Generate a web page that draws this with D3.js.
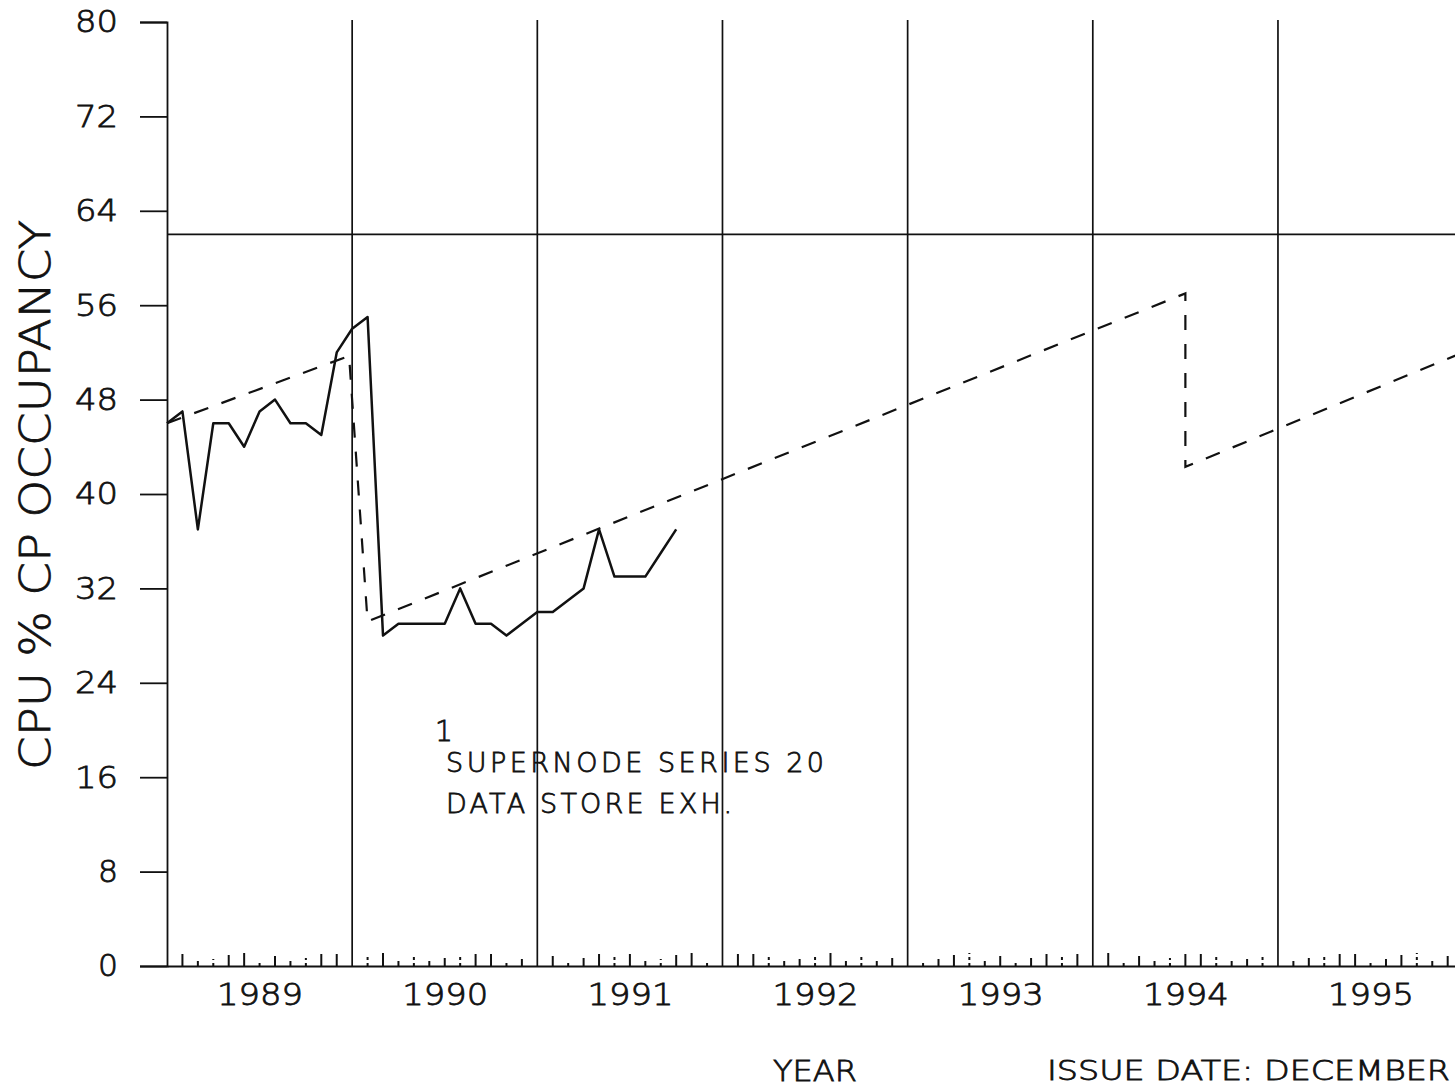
<!DOCTYPE html>
<html>
<head>
<meta charset="utf-8">
<script src="https://cdn.jsdelivr.net/npm/d3@7"></script>
<style>
  html, body { margin: 0; padding: 0; background: #fff; overflow: hidden; }
  text { font-family: "DejaVu Sans", sans-serif; fill: #111; stroke: #111; stroke-width: 0.8px; font-weight: 200; }
</style>
</head>
<body>
<svg id="chart" width="1455" height="1089"></svg>
<script>
// ---- data ----
const yTicks = [0, 8, 16, 24, 32, 40, 48, 56, 64, 72, 80];
const yearLabels = ["1989", "1990", "1991", "1992", "1993", "1994", "1995"];
// actual CPU occupancy, monthly from Jan 1989 (month index 0)
const actualMonths = d3.range(0, 34);
const actualValues = [46, 47, 37, 46, 46, 44, 47, 48, 46, 46, 45, 52,
                      54, 55, 28, 29, 29, 29, 29, 32, 29, 29, 28, 29,
                      30, 30, 31, 32, 37, 33, 33, 33, 35, 37];
// projected (dashed) trend, month index / value
const projMonths = [0, 11.8, 13, 66, 66, 84];
const projValues = [46, 51.7, 29.2, 57, 42.3, 52];
const limitValue = 62;
const annotationLines = ["SUPERNODE SERIES 20", "DATA STORE EXH."];
const annotationMarker = "1";
const xTitle = "YEAR";
const yTitle = "CPU % CP OCCUPANCY";
const issueText = "ISSUE DATE: DECEMBER";
const minorTickHeights = [12, 5, 7, 11, 13, 5, 10, 5, 8, 12, 12];

// ---- layout ----
const svg = d3.select("#chart");
const x = d3.scaleLinear().domain([0, 84]).range([167, 167 + 84 * 15.43]);
const y = d3.scaleLinear().domain([0, 80]).range([966, 22]);
const ink = "#111";

svg.append("defs").append("clipPath").attr("id", "clip")
  .append("rect").attr("x", 0).attr("y", 0).attr("width", 1455).attr("height", 1089);
const g = svg.append("g").attr("clip-path", "url(#clip)");

// year grid lines
const yearBounds = d3.range(12, 84, 12);
g.selectAll("line.grid").data(yearBounds).join("line")
  .attr("class", "grid")
  .attr("x1", d => x(d)).attr("x2", d => x(d))
  .attr("y1", 20).attr("y2", y(0))
  .attr("stroke", ink).attr("stroke-width", 1.7);

// minor month ticks along bottom
const minorTicks = [];
for (let yr = 0; yr < 7; yr++) {
  for (let m = 1; m < 12; m++) minorTicks.push({ mo: yr * 12 + m, h: minorTickHeights[(m - 1 + yr * 3) % 11] });
}
g.selectAll("line.minor").data(minorTicks).join("line")
  .attr("class", "minor")
  .attr("x1", d => x(d.mo)).attr("x2", d => x(d.mo))
  .attr("y1", y(0)).attr("y2", d => y(0) - d.h)
  .attr("stroke", ink).attr("stroke-width", 2)
  .attr("stroke-dasharray", (d, i) => (i % 3 === 2 ? "3,3" : null));

// Y axis
const yAxis = d3.axisLeft(y).tickValues(yTicks).tickSize(27).tickPadding(22)
  .tickFormat(d3.format("d"));
const yg = svg.append("g").attr("transform", `translate(${x(0)},0)`).call(yAxis);
yg.select(".domain").attr("stroke", ink).attr("stroke-width", 1.8);
yg.selectAll(".tick line").attr("stroke", ink).attr("stroke-width", 1.8);
yg.selectAll(".tick text").attr("font-size", 31)
  .attr("font-family", "DejaVu Sans").attr("fill", ink)
  .attr("textLength", d => (d >= 10 ? 43 : 20)).attr("lengthAdjust", "spacingAndGlyphs");

// X axis (baseline + year labels centered in each year)
const xAxis = d3.axisBottom(x).tickValues(d3.range(6, 84, 12)).tickSize(0).tickPadding(17)
  .tickFormat((d, i) => yearLabels[i]);
const xg = g.append("g").attr("transform", `translate(0,${y(0)})`).call(xAxis);
xg.select(".domain").attr("stroke", ink).attr("stroke-width", 1.8);
xg.selectAll(".tick text").attr("font-size", 31)
  .attr("font-family", "DejaVu Sans").attr("fill", ink)
  .attr("textLength", 86).attr("lengthAdjust", "spacingAndGlyphs");

// limit line
g.append("line")
  .attr("x1", x(0)).attr("x2", x(84))
  .attr("y1", y(limitValue)).attr("y2", y(limitValue))
  .attr("stroke", ink).attr("stroke-width", 1.8);

// projected dashed line
const projData = projMonths.map((m, i) => [m, projValues[i]]);
g.append("path").datum(projData)
  .attr("d", d3.line().x(d => x(d[0])).y(d => y(d[1])))
  .attr("fill", "none").attr("stroke", ink).attr("stroke-width", 2.2)
  .attr("stroke-dasharray", "15,14");

// actual solid line
const actData = actualMonths.map((m, i) => [m, actualValues[i]]);
g.append("path").datum(actData)
  .attr("d", d3.line().x(d => x(d[0])).y(d => y(d[1])))
  .attr("fill", "none").attr("stroke", ink).attr("stroke-width", 2.5)
  .attr("stroke-linejoin", "round");

// annotation
svg.append("text").attr("x", 435).attr("y", 741)
  .attr("font-size", 28).text(annotationMarker);
svg.selectAll("text.ann").data(annotationLines).join("text")
  .attr("class", "ann")
  .attr("x", 446).attr("y", (d, i) => 772 + i * 41)
  .attr("font-size", 27)
  .attr("textLength", (d, i) => i === 0 ? 378 : 286)
  .attr("lengthAdjust", "spacing")
  .text(d => d);

// axis titles
svg.append("text")
  .attr("transform", "translate(50,495) rotate(-90)")
  .attr("text-anchor", "middle")
  .attr("font-size", 43)
  .attr("textLength", 550).attr("lengthAdjust", "spacingAndGlyphs")
  .text(yTitle);
svg.append("text").attr("x", 815).attr("y", 1081)
  .attr("text-anchor", "middle").attr("font-size", 28)
  .attr("textLength", 84).attr("lengthAdjust", "spacingAndGlyphs")
  .text(xTitle);
svg.append("text").attr("x", 1047).attr("y", 1080)
  .attr("font-size", 27)
  .attr("textLength", 403).attr("lengthAdjust", "spacingAndGlyphs")
  .text(issueText);
</script>
</body>
</html>
